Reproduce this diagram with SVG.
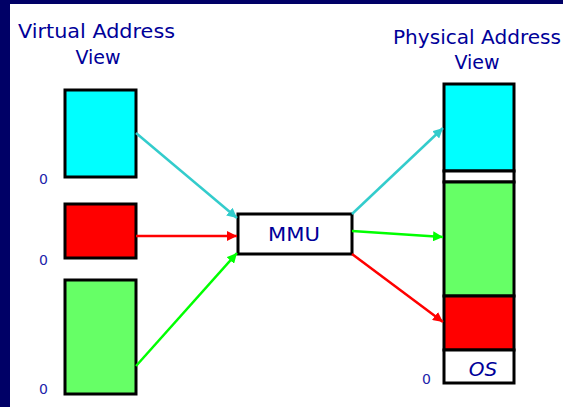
<svg xmlns="http://www.w3.org/2000/svg" width="563" height="407" viewBox="0 0 563 407">
<style>
.title{font-family:"DejaVu Sans","Liberation Sans",sans-serif;font-size:19px;fill:#000099}
.zero{font-family:"DejaVu Sans","Liberation Sans",sans-serif;font-size:14px;fill:#2222aa}
.box{stroke:#000;stroke-width:3}
.lbl{font-family:"DejaVu Sans","Liberation Sans",sans-serif;font-size:20px;fill:#000099}
.it{font-style:italic}
.con{fill:none;stroke-width:2.5}
</style>
<defs>
<marker id="ac" viewBox="0 0 10 10" refX="10" refY="5" markerWidth="4" markerHeight="4" orient="auto" markerUnits="strokeWidth"><path d="M0,0 L10,5 L0,10 z" fill="#33cccc"/></marker>
<marker id="ar" viewBox="0 0 10 10" refX="10" refY="5" markerWidth="4" markerHeight="4" orient="auto" markerUnits="strokeWidth"><path d="M0,0 L10,5 L0,10 z" fill="#ff0000"/></marker>
<marker id="ag" viewBox="0 0 10 10" refX="10" refY="5" markerWidth="4" markerHeight="4" orient="auto" markerUnits="strokeWidth"><path d="M0,0 L10,5 L0,10 z" fill="#00ff00"/></marker>
</defs>
<rect x="0" y="0" width="563" height="407" fill="#000066"/>
<rect x="10" y="4" width="553" height="403" fill="#ffffff"/>
<text class="title" x="18" y="38" textLength="157" lengthAdjust="spacingAndGlyphs">Virtual Address</text>
<text class="title" x="98" y="64" text-anchor="middle">View</text>
<text class="title" x="393" y="44" textLength="168" lengthAdjust="spacingAndGlyphs">Physical Address</text>
<text class="title" x="477" y="69" text-anchor="middle">View</text>
<g id="v-cyan"><rect class="box" x="65" y="90" width="71" height="87" fill="#00ffff"/></g>
<g id="v-red"><rect class="box" x="65" y="204" width="71" height="54" fill="#ff0000"/></g>
<g id="v-green"><rect class="box" x="65" y="280" width="71" height="114" fill="#66ff66"/></g>
<g id="zeros">
<text class="zero" x="39" y="184">0</text>
<text class="zero" x="39" y="265">0</text>
<text class="zero" x="39" y="394">0</text>
<text class="zero" x="422" y="384">0</text>
</g>
<g id="mmu"><rect class="box" x="238" y="214" width="114" height="40" fill="#ffffff"/><text class="lbl" x="294" y="241" text-anchor="middle" textLength="52" lengthAdjust="spacingAndGlyphs">MMU</text></g>
<g id="physical">
<rect class="box" x="444" y="84" width="70" height="87" fill="#00ffff"/>
<rect class="box" x="444" y="171" width="70" height="11" fill="#ffffff"/>
<rect class="box" x="444" y="182" width="70" height="114" fill="#66ff66"/>
<rect class="box" x="444" y="296" width="70" height="54" fill="#ff0000"/>
<rect class="box" x="444" y="350" width="70" height="33" fill="#ffffff"/>
<text class="lbl it" x="483" y="376" text-anchor="middle">OS</text>
</g>
<g id="connectors">
<line class="con" x1="136" y1="133" x2="237" y2="218" stroke="#33cccc" marker-end="url(#ac)"/>
<line class="con" x1="136" y1="236" x2="237" y2="236" stroke="#ff0000" marker-end="url(#ar)"/>
<line class="con" x1="136" y1="366" x2="237" y2="253" stroke="#00ff00" marker-end="url(#ag)"/>
<line class="con" x1="352" y1="214" x2="443" y2="128" stroke="#33cccc" marker-end="url(#ac)"/>
<line class="con" x1="352" y1="231" x2="443" y2="237" stroke="#00ff00" marker-end="url(#ag)"/>
<line class="con" x1="352" y1="254" x2="443" y2="322" stroke="#ff0000" marker-end="url(#ar)"/>
</g>
</svg>
